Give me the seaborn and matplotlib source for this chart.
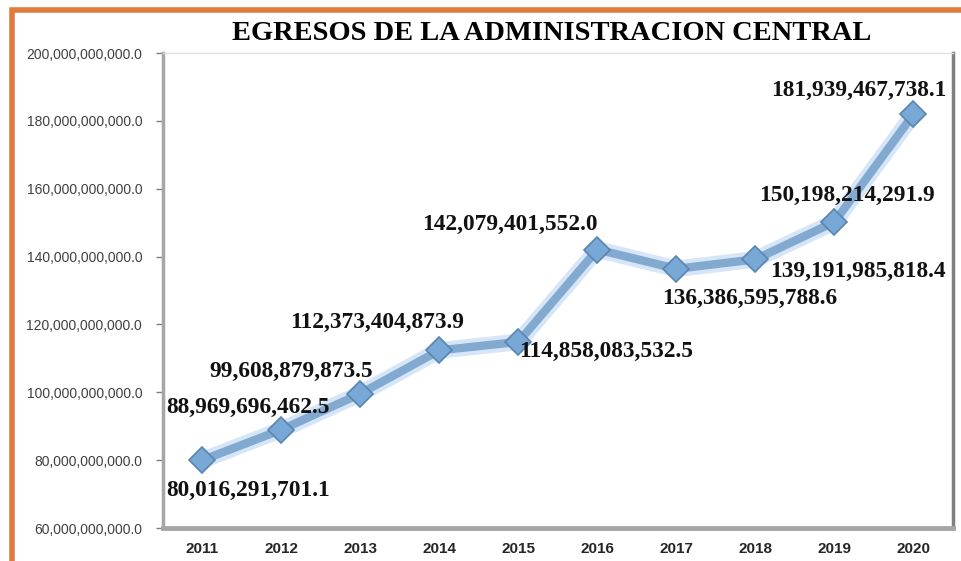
import matplotlib
matplotlib.use("Agg")
import matplotlib.pyplot as plt
from matplotlib.patches import Rectangle
from matplotlib.ticker import FuncFormatter, MultipleLocator
import seaborn as sns
import pandas as pd

# data
years = [2011, 2012, 2013, 2014, 2015, 2016, 2017, 2018, 2019, 2020]
egresos = [80016291701.1, 88969696462.5, 99608879873.5, 112373404873.9,
           114858083532.5, 142079401552.0, 136386595788.6, 139191985818.4,
           150198214291.9, 181939467738.1]
# label offsets in points (dx, dy) relative to each point
label_offsets = [(33, -22), (-24, 16), (-50, 16), (-45, 20), (63, -7),
                 (-63, 18), (53, -21), (74, -9), (9, 19), (-39, 17)]

df = pd.DataFrame({"year": years, "egresos": egresos})

sns.set_style("white")
fig = plt.figure(figsize=(9.62, 5.61), dpi=100)
ax = fig.add_axes([0.1694, 0.0588, 0.8212, 0.8467])

# orange frame of the slide (cropped on right/bottom)
fig.patches.append(Rectangle((0.0125, -0.1), 1.2, 1.082, transform=fig.transFigure,
                             fill=False, edgecolor="#E07B3C", linewidth=4))

# glow under the line
ax.plot(df["year"], df["egresos"], color="#D6E6F6", linewidth=12,
        solid_capstyle="round", zorder=2)
sns.lineplot(data=df, x="year", y="egresos", ax=ax, color="#82A9D0",
             linewidth=6, marker="D", markersize=13,
             markerfacecolor="#78A8D6", markeredgecolor="#5A85B0",
             markeredgewidth=1.2, zorder=3)

for x, y, (dx, dy) in zip(years, egresos, label_offsets):
    ax.annotate(f"{y:,.1f}", (x, y), xytext=(dx, dy), textcoords="offset points",
                ha="center", va="center", fontsize=16.8, fontweight="bold",
                family="Liberation Serif", color="#111111", zorder=5)

ax.set_xlim(2010.5, 2020.5)
ax.set_ylim(60e9, 200e9)
ax.yaxis.set_major_locator(MultipleLocator(20e9))
ax.yaxis.set_major_formatter(FuncFormatter(lambda v, p: f"{v:,.1f}"))
ax.set_xticks(years)
ax.set_xticks([y + 0.5 for y in [2010] + years], minor=True)
ax.tick_params(axis="x", which="major", length=0, pad=10)
ax.tick_params(axis="x", which="minor", length=5, color="#808080", width=1, direction="out")
ax.tick_params(axis="y", length=5, color="#808080", width=1, direction="out", left=True, pad=10)
for lab in ax.get_xticklabels():
    lab.set_fontweight("bold")
    lab.set_family("Liberation Sans")
    lab.set_fontsize(11)
for lab in ax.get_yticklabels():
    lab.set_family("Liberation Sans")
    lab.set_fontsize(10)
    lab.set_color("#404040")

ax.set_xlabel("")
ax.set_ylabel("")

ax.spines["left"].set_color("#A6A6A6")
ax.spines["left"].set_linewidth(2.5)
ax.spines["bottom"].set_color("#A6A6A6")
ax.spines["bottom"].set_linewidth(3.5)
ax.spines["right"].set_color("#7F7F7F")
ax.spines["right"].set_linewidth(2.5)
ax.spines["top"].set_color("#E0E0E0")
ax.spines["top"].set_linewidth(1)

fig.text(0.573, 0.94, "EGRESOS DE LA ADMINISTRACION CENTRAL", ha="center", va="center",
         fontsize=20.5, fontweight="bold", family="Liberation Serif", color="#000000")

fig.savefig("out.png", dpi=100)
